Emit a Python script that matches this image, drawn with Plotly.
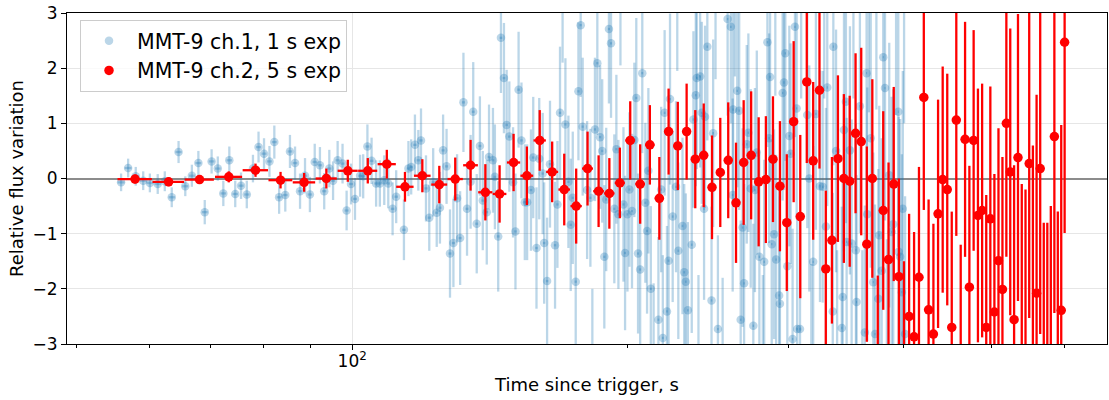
import plotly.graph_objects as go

# MMT-9 ch.2, 5 s exposures
red_time = [57.9, 63.0, 68.1, 73.3, 78.4, 83.5, 88.6, 93.7, 98.9, 104.0,
            109.1, 114.2, 119.3, 124.5, 129.6, 134.7, 139.8, 144.9, 150.1, 155.2,
            160.3, 165.4, 170.5, 175.7, 180.8, 185.9, 191.0, 196.1, 201.3, 206.4,
            211.5, 216.6, 221.7, 226.9, 232.0, 237.1, 242.2, 247.3, 252.5, 257.6,
            262.7, 267.8, 272.9, 278.1, 283.2, 288.3, 293.4, 298.5, 303.7, 308.8,
            313.9, 319.0, 324.1, 329.3, 334.4, 339.5, 344.6, 349.7, 354.9, 360.0,
            365.1, 370.2, 375.3, 380.5, 385.6, 390.7, 395.8, 400.9, 406.1, 411.2,
            416.3, 421.4, 426.5, 431.7, 436.8, 441.9, 447.0, 452.1, 457.3, 462.4,
            467.5, 472.6, 477.7, 482.9, 488.0, 493.1, 498.2, 503.3, 508.5, 513.6,
            518.7, 523.8, 528.9, 534.1, 539.2, 544.3, 549.4, 554.5, 559.7, 564.8,
            569.9, 575.0, 580.1, 585.3, 590.4, 595.5, 600.6]
red_flux = [-0.01, -0.06, -0.02, 0.03, 0.15, -0.03, -0.07, 0.00, 0.14, 0.14,
            0.26, -0.15, 0.05, -0.11, -0.01, 0.24, -0.25, -0.28, 0.29, 0.05,
            0.69, 0.12, -0.20, -0.50, 0.18, -0.23, -0.27, -0.08, 0.69, -0.10,
            0.61, -0.36, 0.85, 0.59, 0.85, 0.35, 0.42, -0.16, 0.11, 0.33,
            -0.44, 0.29, 0.42, -0.06, -0.02, 0.35, -0.14, -0.80, 1.03, -0.69,
            1.75, 0.32, 1.60, -1.64, -1.12, 0.36, 0.00, -0.05, 0.82, 0.67,
            -1.19, 0.00, -3.56, -0.58, -1.47, -0.10, -1.78, -3.30, -2.50, -2.87,
            -1.79, 1.47, -2.38, -2.82, -0.64, -0.02, -0.20, -2.70, 1.06, -3.30,
            0.71, -1.97, 0.69, -0.67, -0.58, -2.70, -0.73, -2.42, -1.49, -2.01,
            1.00, 0.12, -2.56, 0.38, -3.20, -3.20, 0.27, -3.30, -2.08, 0.18,
            -3.50, -3.50, -3.30, 0.76, -3.40, -2.39, 2.47]
red_err = [0.08, 0.08, 0.08, 0.10, 0.12, 0.15, 0.17, 0.18, 0.20, 0.23,
           0.26, 0.27, 0.30, 0.34, 0.39, 0.46, 0.51, 0.52, 0.52, 0.53,
           0.55, 0.55, 0.65, 0.68, 0.67, 0.65, 0.64, 0.64, 0.71, 0.72,
           0.72, 0.75, 0.78, 0.80, 0.87, 0.89, 0.94, 0.94, 0.99, 1.05,
           1.09, 1.13, 1.16, 1.17, 1.15, 1.14, 1.18, 1.24, 1.46, 1.48,
           1.47, 1.43, 1.42, 1.42, 1.51, 1.51, 1.53, 1.55, 1.45, 1.70,
           1.77, 1.80, 1.80, 1.80, 1.76, 1.76, 1.78, 1.80, 1.86, 1.90,
           2.00, 2.04, 2.00, 2.00, 2.07, 2.05, 2.10, 2.10, 2.10, 2.10,
           2.13, 2.20, 2.00, 2.30, 2.30, 2.40, 2.40, 2.50, 2.40, 2.40,
           2.42, 2.60, 2.80, 2.60, 3.10, 3.00, 2.80, 3.90, 3.60, 3.00,
           2.70, 2.70, 2.80, 3.20, 2.80, 3.36, 3.46]
red_half_exp = 2.5

# MMT-9 ch.1, 1 s exposures
blue_time = [55.9, 56.9, 58.0, 59.1, 60.1, 61.3, 62.4, 63.5, 64.6, 65.7,
             66.8, 67.9, 69.0, 70.2, 71.3, 72.3, 73.4, 74.5, 75.6, 76.7,
             77.9, 79.0, 80.1, 81.2, 82.2, 83.2, 84.5, 85.5, 86.6, 87.7,
             88.8, 89.9, 91.0, 92.2, 93.2, 94.4, 95.3, 96.4, 97.6, 98.6,
             99.7, 100.7, 102.0, 102.8, 103.9, 105.0, 106.2, 107.2, 108.4, 109.5,
             110.7, 111.7, 113.9, 115.2, 116.0, 117.1, 118.1, 118.9, 120.4, 121.4,
             122.6, 123.7, 124.7, 125.7, 126.8, 127.9, 129.0, 130.2, 131.2, 132.3,
             133.5, 134.7, 135.6, 136.8, 137.9, 138.9, 140.3, 141.1, 142.5, 143.2,
             144.4, 145.4, 146.5, 147.5, 148.5, 149.9, 150.8, 152.0, 153.1, 154.4,
             155.3, 156.8, 157.7, 159.0, 160.1, 161.5, 162.1, 163.3, 164.5, 166.6,
             167.6, 168.7, 169.8, 171.0, 172.3, 173.3, 174.2, 175.5, 176.7, 177.7,
             178.6, 180.6, 182.1, 183.0, 184.2, 185.3, 186.6, 187.6, 188.6, 189.5,
             190.8, 191.8, 193.4, 194.4, 195.4, 196.4, 197.9, 198.7, 199.9, 200.9,
             202.2, 203.4, 204.4, 205.3, 206.4, 207.5, 209.1, 210.0, 210.7, 212.0,
             213.5, 216.1, 217.6, 218.5, 219.5, 220.8, 221.7, 222.5, 224.0, 225.9,
             226.6, 227.2, 229.6, 230.6, 231.5, 232.7, 235.0, 236.0, 237.4, 238.0,
             239.0, 240.0, 241.0, 242.4, 243.0, 244.4, 247.0, 248.0, 249.5, 251.0,
             254.0, 257.2, 259.3, 260.5, 260.8, 262.0, 263.5, 264.8, 265.8, 267.1,
             268.1, 269.9, 271.0, 272.6, 274.4, 275.5, 276.8, 278.6, 281.0, 282.0,
             284.3, 285.5, 286.2, 287.4, 289.1, 290.0, 290.6, 292.8, 293.4, 295.4,
             296.4, 297.4, 298.9, 300.4, 301.4, 302.9, 304.7, 306.0, 306.4, 308.6,
             309.5, 314.3, 315.9, 317.5, 319.0, 321.2, 324.5, 326.7, 328.0, 329.4,
             330.5, 335.1, 335.6, 337.9, 338.8, 342.8, 343.6, 344.7, 346.4, 347.0,
             349.9, 351.4, 353.0, 355.2, 355.8, 358.8, 361.0, 363.3, 364.9, 365.5,
             367.0, 368.7, 371.1, 372.7, 374.0, 375.8, 376.7, 379.0, 380.5, 382.2,
             384.0, 386.3, 388.6, 390.2, 393.0, 395.2, 395.6, 396.0, 397.0, 398.7,
             399.7, 401.0, 402.0]
blue_flux = [-0.07, 0.19, 0.04, -0.04, -0.08, -0.10, -0.05, -0.34, 0.48, -0.14,
             0.05, 0.28, -0.61, 0.31, 0.18, -0.27, 0.33, -0.28, -0.13, -0.29,
             0.18, 0.57, 0.45, 0.31, 0.66, -0.34, -0.30, 0.49, 0.28, -0.23,
             0.05, -0.29, 0.30, 0.24, -0.23, 0.18, -0.04, 0.33, 0.27, -0.58,
             -0.10, -0.37, 0.05, 0.04, 0.58, 0.32, -0.09, -0.09, -0.03, -0.09,
             -0.55, -0.33, -0.93, 0.18, 0.21, 0.61, 0.33, 0.69, -0.18, -0.71,
             -0.07, -0.62, -0.53, 0.51, 0.22, -1.36, -1.17, -0.36, -1.08, 1.38,
             -0.55, -0.06, 1.21, -0.82, 0.59, -0.40, -0.61, 0.39, 0.33, 0.03,
             -1.05, 2.55, 1.82, 0.97, 0.76, -0.07, -0.96, 1.61, 0.69, -0.43,
             -0.43, -0.21, 0.38, -1.26, 0.36, 0.09, -1.17, -1.86, 0.26, -1.21,
             -0.47, 1.19, 3.30, 0.98, -0.06, -0.84, -0.35, -1.87, 1.58, 2.78,
             0.94, -0.21, -0.35, -3.30, 0.89, 2.09, 0.75, 0.50, -1.42, -0.38,
             2.71, 2.45, -0.55, 0.53, -0.65, 3.40, -0.47, -1.35, -0.65, -0.20,
             -0.59, 0.70, 1.46, -1.36, -1.65, 1.91, -0.44, -0.95, 0.14, -2.00,
             -3.40, -2.56, -0.20, -2.89, 1.19, -2.41, -1.49, 1.44, -0.69, -0.15,
             3.50, -1.31, -0.86, -1.70, -1.87, -2.39, -1.20, 1.07, 1.51, 1.82,
             -3.40, 1.85, 1.19, -0.55, 1.12, 2.39, -2.21, 0.82, 3.50, -2.73,
             -3.50, 2.89, 2.75, -0.30, 1.25, 3.60, 1.59, 1.23, -2.56, -0.89,
             -1.90, 0.62, 0.83, -0.18, -2.67, -0.21, 0.47, -1.42, -3.60, -1.51,
             2.47, 0.73, 1.84, -1.19, -1.01, 3.40, -1.47, -2.12, -2.27, 1.55,
             1.74, 2.27, -1.59, 0.77, 0.45, -2.91, 2.75, 1.27, -2.73, -2.73,
             3.50, 1.15, 0.00, -3.60, -1.51, 1.17, -0.14, -0.15, 3.60, -0.87,
             1.65, -2.41, 2.39, 0.50, -3.50, -2.71, -2.15, 0.88, 1.39, -1.15,
             0.51, -1.18, 3.70, -1.30, -2.24, 1.31, -3.60, -2.79, 1.91, -0.65,
             3.50, 0.73, -1.88, -2.82, 3.60, -2.18, -1.03, -1.67, 2.20, 1.64,
             -3.50, 0.06, -0.97, -0.83, 3.60, 1.21, -1.33, -3.80, -1.42, -2.06,
             -0.55, 3.50, -2.82]
blue_err = [0.16, 0.17, 0.17, 0.17, 0.17, 0.18, 0.18, 0.18, 0.20, 0.18,
            0.20, 0.22, 0.22, 0.22, 0.22, 0.23, 0.25, 0.24, 0.24, 0.25,
            0.25, 0.28, 0.28, 0.28, 0.30, 0.30, 0.30, 0.30, 0.30, 0.32,
            0.32, 0.32, 0.33, 0.33, 0.33, 0.34, 0.35, 0.35, 0.36, 0.36,
            0.37, 0.38, 0.38, 0.40, 0.40, 0.42, 0.42, 0.42, 0.45, 0.45,
            0.48, 0.48, 0.55, 0.50, 0.50, 0.55, 0.55, 0.58, 0.60, 0.60,
            0.62, 0.62, 0.65, 0.65, 0.68, 0.80, 0.80, 0.80, 0.85, 0.90,
            0.85, 0.85, 0.90, 0.90, 0.90, 0.90, 0.95, 0.95, 0.95, 0.95,
            1.00, 1.00, 1.00, 1.00, 1.00, 1.00, 1.05, 1.05, 1.05, 1.05,
            1.05, 1.10, 1.10, 1.10, 1.10, 1.10, 1.10, 1.15, 1.15, 1.15,
            1.15, 1.20, 1.20, 1.20, 1.20, 1.20, 1.20, 1.25, 1.25, 1.30,
            1.25, 1.25, 1.25, 1.30, 1.30, 1.30, 1.30, 1.30, 1.30, 1.30,
            1.35, 1.35, 1.35, 1.35, 1.35, 1.35, 1.40, 1.40, 1.40, 1.40,
            1.40, 1.40, 1.45, 1.45, 1.45, 1.45, 1.45, 1.50, 1.50, 1.50,
            1.50, 1.50, 1.50, 1.50, 1.50, 1.55, 1.55, 1.55, 1.55, 1.55,
            1.55, 1.60, 1.60, 1.60, 1.60, 1.60, 1.60, 1.60, 1.65, 1.65,
            1.65, 1.65, 1.65, 1.65, 1.65, 1.70, 1.70, 1.70, 1.70, 1.70,
            1.70, 1.75, 1.75, 1.75, 1.75, 1.75, 1.75, 1.80, 1.80, 1.80,
            1.80, 1.80, 1.80, 1.80, 1.85, 1.85, 1.85, 1.85, 1.85, 1.85,
            1.90, 1.90, 1.90, 1.90, 1.90, 1.90, 1.90, 1.95, 1.95, 1.95,
            1.95, 1.95, 2.00, 2.00, 2.00, 2.00, 2.00, 2.00, 2.00, 2.05,
            2.05, 2.05, 2.05, 2.05, 2.10, 2.10, 2.10, 2.10, 2.15, 2.15,
            2.15, 2.15, 2.15, 2.20, 2.20, 2.20, 2.20, 2.20, 2.20, 2.25,
            2.25, 2.25, 2.25, 2.30, 2.30, 2.30, 2.30, 2.30, 2.30, 2.30,
            2.30, 2.35, 2.35, 2.35, 2.35, 2.35, 2.35, 2.40, 2.40, 2.40,
            2.40, 2.40, 2.45, 2.45, 2.45, 2.45, 2.45, 2.45, 2.50, 2.50,
            2.50, 2.50, 2.50]
blue_half_exp = 0.5

x_tickvals = [100]
x_ticktext = ['10<sup>2</sup>']
x_minor_ticks = [50, 60, 70, 80, 90, 200, 300, 400, 500, 600]
y_tickvals = [-3, -2, -1, 0, 1, 2, 3]

fig = go.Figure()

# 1 s exposures (semi-transparent so overlaps build up)
blue = 'rgba(31,119,180,0.3)'
fig.add_trace(go.Scatter(
    x=blue_time, y=blue_flux, mode='markers', name='MMT-9 ch.1, 1 s exp',
    marker=dict(size=8.5, color=blue, line=dict(width=0)),
    error_y=dict(type='data', array=blue_err, color=blue, thickness=2.3, width=0),
    error_x=dict(type='constant', value=blue_half_exp, color=blue, thickness=2.3, width=0),
))

# 5 s exposures
fig.add_trace(go.Scatter(
    x=red_time, y=red_flux, mode='markers', name='MMT-9 ch.2, 5 s exp',
    marker=dict(size=9.5, color='red', line=dict(width=0)),
    error_y=dict(type='data', array=red_err, color='red', thickness=2.3, width=0),
    error_x=dict(type='constant', value=red_half_exp, color='red', thickness=2.3, width=0),
))

axis_common = dict(
    showline=True, linecolor='black', linewidth=1, mirror=True,
    ticks='outside', ticklen=5, tickwidth=1, tickcolor='black',
    showgrid=True, gridcolor='#e6e6e6', gridwidth=1,
    automargin=False, tickfont=dict(size=17), ticklabeloverflow='allow',
)

fig.update_layout(
    width=1109, height=400,
    margin=dict(l=67, r=2, t=13, b=56),
    paper_bgcolor='white', plot_bgcolor='white',
    font=dict(family='DejaVu Sans', size=17, color='black'),
    showlegend=True,
    legend=dict(
        x=0.0125, y=0.979, xanchor='left', yanchor='top',
        bgcolor='rgba(255,255,255,0.8)', bordercolor='#cccccc', borderwidth=1,
        font=dict(size=20.5), itemwidth=46,
    ),
    xaxis=dict(
        type='log', range=[1.6883, 2.8249],
        tickvals=x_tickvals, ticktext=x_ticktext, ticklabelstandoff=-3,
        minor=dict(tickvals=x_minor_ticks, ticks='outside', ticklen=3,
                   tickwidth=1, tickcolor='black', showgrid=False),
        title=dict(text='Time since trigger, s', standoff=7, font=dict(size=18)),
        zeroline=False,
        **axis_common,
    ),
    yaxis=dict(
        range=[-3, 3.0001], tickvals=y_tickvals,
        title=dict(text='Relative flux variation', standoff=4, font=dict(size=18)),
        zeroline=True, zerolinecolor='rgba(0,0,0,0.45)', zerolinewidth=2,
        **axis_common,
    ),
)

# drop the default 8 px page margin so the figure fills the window exactly
fig.write_html("out.html", config={'displayModeBar': False},
               post_script="document.body.style.margin = '0';")
